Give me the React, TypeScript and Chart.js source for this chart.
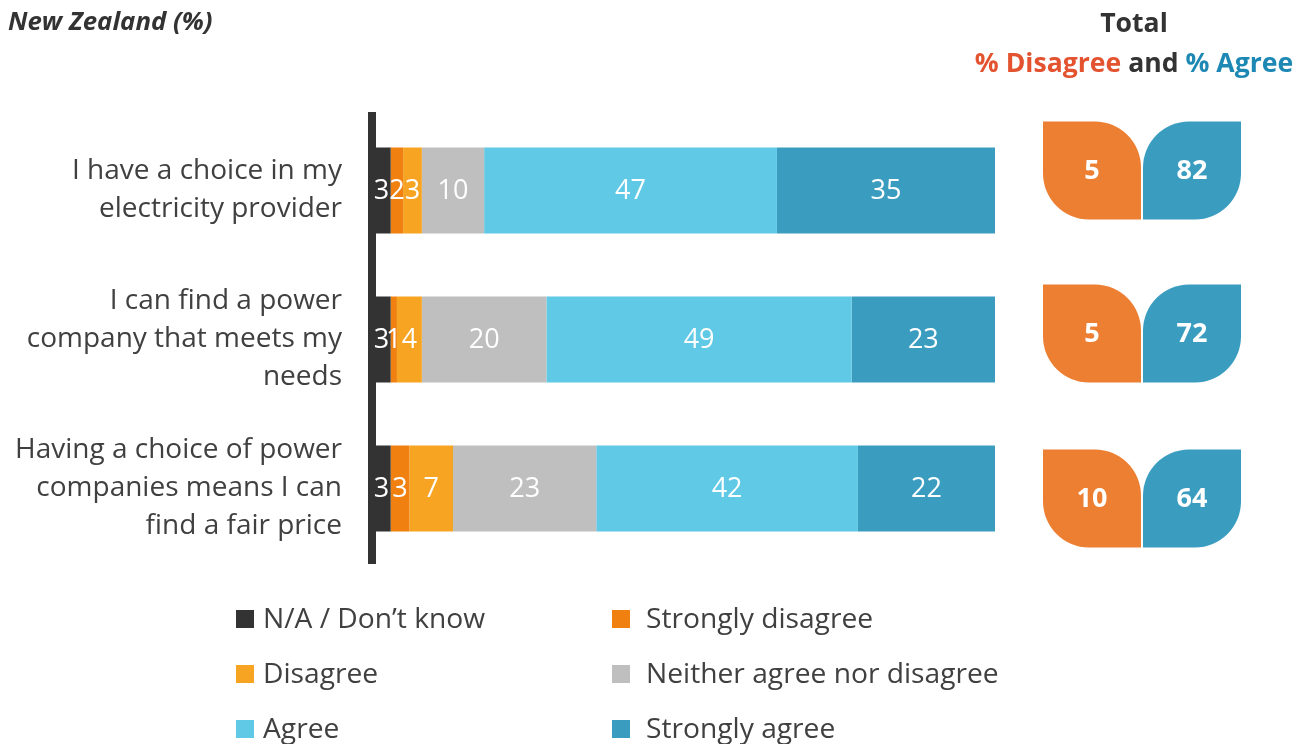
import { useEffect, useRef } from 'react';
import { Chart, registerables } from 'chart.js';

Chart.register(...registerables);

const FONT = "'Open Sans', Lato, sans-serif";

const categories = [
  ['I have a choice in my', 'electricity provider'],
  ['I can find a power', 'company that meets my', 'needs'],
  ['Having a choice of power', 'companies means I can', 'find a fair price'],
];
const seriesNames = ['N/A / Don\u2019t know', 'Strongly disagree', 'Disagree', 'Neither agree nor disagree', 'Agree', 'Strongly agree'];
const naValues = [3, 3, 3];
const stronglyDisagreeValues = [2, 1, 3];
const disagreeValues = [3, 4, 7];
const neitherValues = [10, 20, 23];
const agreeValues = [47, 49, 42];
const stronglyAgreeValues = [35, 23, 22];
const totalDisagree = [5, 5, 10];
const totalAgree = [82, 72, 64];

const seriesColors = ['#333333', '#F0800F', '#F6A421', '#BFBFBF', '#5FC9E6', '#3A9DC0'];
const leafOrange = '#ED7F33';
const leafBlue = '#3A9DC0';
const textColor = '#404040';

const decorPlugin = {
  id: 'decor',
  afterDatasetsDraw(chart: any) {
    const ctx = chart.ctx;
    ctx.save();
    // data labels
    ctx.fillStyle = '#FFFFFF';
    ctx.font = `27px ${FONT}`;
    ctx.textAlign = 'center';
    ctx.textBaseline = 'middle';
    chart.data.datasets.forEach((ds: any, di: number) => {
      const meta = chart.getDatasetMeta(di);
      meta.data.forEach((el: any, i: number) => {
        const v = ds.data[i];
        const cx = (el.x + el.base) / 2;
        ctx.fillText(String(v), cx, el.y + 1);
      });
    });

    // titles
    ctx.fillStyle = '#333333';
    ctx.textAlign = 'left';
    ctx.font = `italic bold 25.8px ${FONT}`;
    ctx.fillText('New Zealand (%)', 8, 23);

    ctx.textAlign = 'center';
    ctx.font = `bold 26.6px ${FONT}`;
    ctx.fillText('Total', 1134, 24);
    const p1 = '% Disagree';
    const p2 = ' and ';
    const p3 = '% Agree';
    const w1 = ctx.measureText(p1).width;
    const w2 = ctx.measureText(p2).width;
    const w3 = ctx.measureText(p3).width;
    let x = 1134 - (w1 + w2 + w3) / 2;
    ctx.textAlign = 'left';
    ctx.fillStyle = '#E45330';
    ctx.fillText(p1, x, 64);
    x += w1;
    ctx.fillStyle = '#333333';
    ctx.fillText(p2, x, 64);
    x += w2;
    ctx.fillStyle = '#1E88B4';
    ctx.fillText(p3, x, 64);

    // leaves
    const yScale = chart.scales.y;
    const offsets = [-20, -6, 10];
    const size = 98;
    const r = 46;
    categories.forEach((_c, i) => {
      const cy = yScale.getPixelForValue(i) + offsets[i];
      const top = cy - size / 2;
      ctx.fillStyle = leafOrange;
      ctx.beginPath();
      ctx.roundRect(1043, top, size, size, [0, r, 0, r]);
      ctx.fill();
      ctx.fillStyle = leafBlue;
      ctx.beginPath();
      ctx.roundRect(1143, top, size, size, [r, 0, r, 0]);
      ctx.fill();
      ctx.fillStyle = '#FFFFFF';
      ctx.font = `bold 27px ${FONT}`;
      ctx.textAlign = 'center';
      ctx.fillText(String(totalDisagree[i]), 1043 + size / 2, cy + 1);
      ctx.fillText(String(totalAgree[i]), 1143 + size / 2, cy + 1);
    });

    // legend
    ctx.font = `28.2px ${FONT}`;
    ctx.textAlign = 'left';
    seriesNames.forEach((name, i) => {
      const col = i % 2;
      const row = Math.floor(i / 2);
      const sx = col === 0 ? 236 : 612;
      const tx = col === 0 ? 263 : 646;
      const cy = 619 + row * 55;
      ctx.fillStyle = seriesColors[i];
      ctx.fillRect(sx, cy - 9, 18, 18);
      ctx.fillStyle = textColor;
      ctx.fillText(name, tx, cy + 1);
    });
    ctx.restore();
  },
};

export default function App() {
  const ref = useRef<HTMLCanvasElement | null>(null);
  useEffect(() => {
    document.body.style.margin = '0';
    const values = [naValues, stronglyDisagreeValues, disagreeValues, neitherValues, agreeValues, stronglyAgreeValues];
    const chart = new Chart(ref.current as HTMLCanvasElement, {
      type: 'bar',
      data: {
        labels: categories,
        datasets: values.map((d, i) => ({
          label: seriesNames[i],
          data: d,
          backgroundColor: seriesColors[i],
          borderWidth: 0,
          barPercentage: 0.577,
          categoryPercentage: 1,
        })),
      },
      options: {
        indexAxis: 'y',
        animation: false,
        responsive: false,
        maintainAspectRatio: false,
        layout: { padding: { left: 0, right: 313, top: 116, bottom: 181 } },
        plugins: { legend: { display: false }, tooltip: { enabled: false } },
        scales: {
          x: { stacked: true, min: 0, max: 100, display: false },
          y: {
            stacked: true,
            grid: { display: false, drawTicks: false },
            border: { display: true, color: '#333333', width: 8 },
            ticks: {
              color: textColor,
              padding: 30,
              font: { family: FONT, size: 28, lineHeight: 38 / 28 },
            },
            afterFit(scale: any) {
              scale.width = 372;
            },
          },
        },
      },
      plugins: [decorPlugin],
    } as any);
    return () => chart.destroy();
  }, []);
  return (
    <div style={{ position: 'fixed', left: 0, top: 0, width: 1308, height: 744, background: '#fff' }}>
      <canvas ref={ref} width={1308} height={744} style={{ width: 1308, height: 744, display: 'block' }} />
    </div>
  );
}
